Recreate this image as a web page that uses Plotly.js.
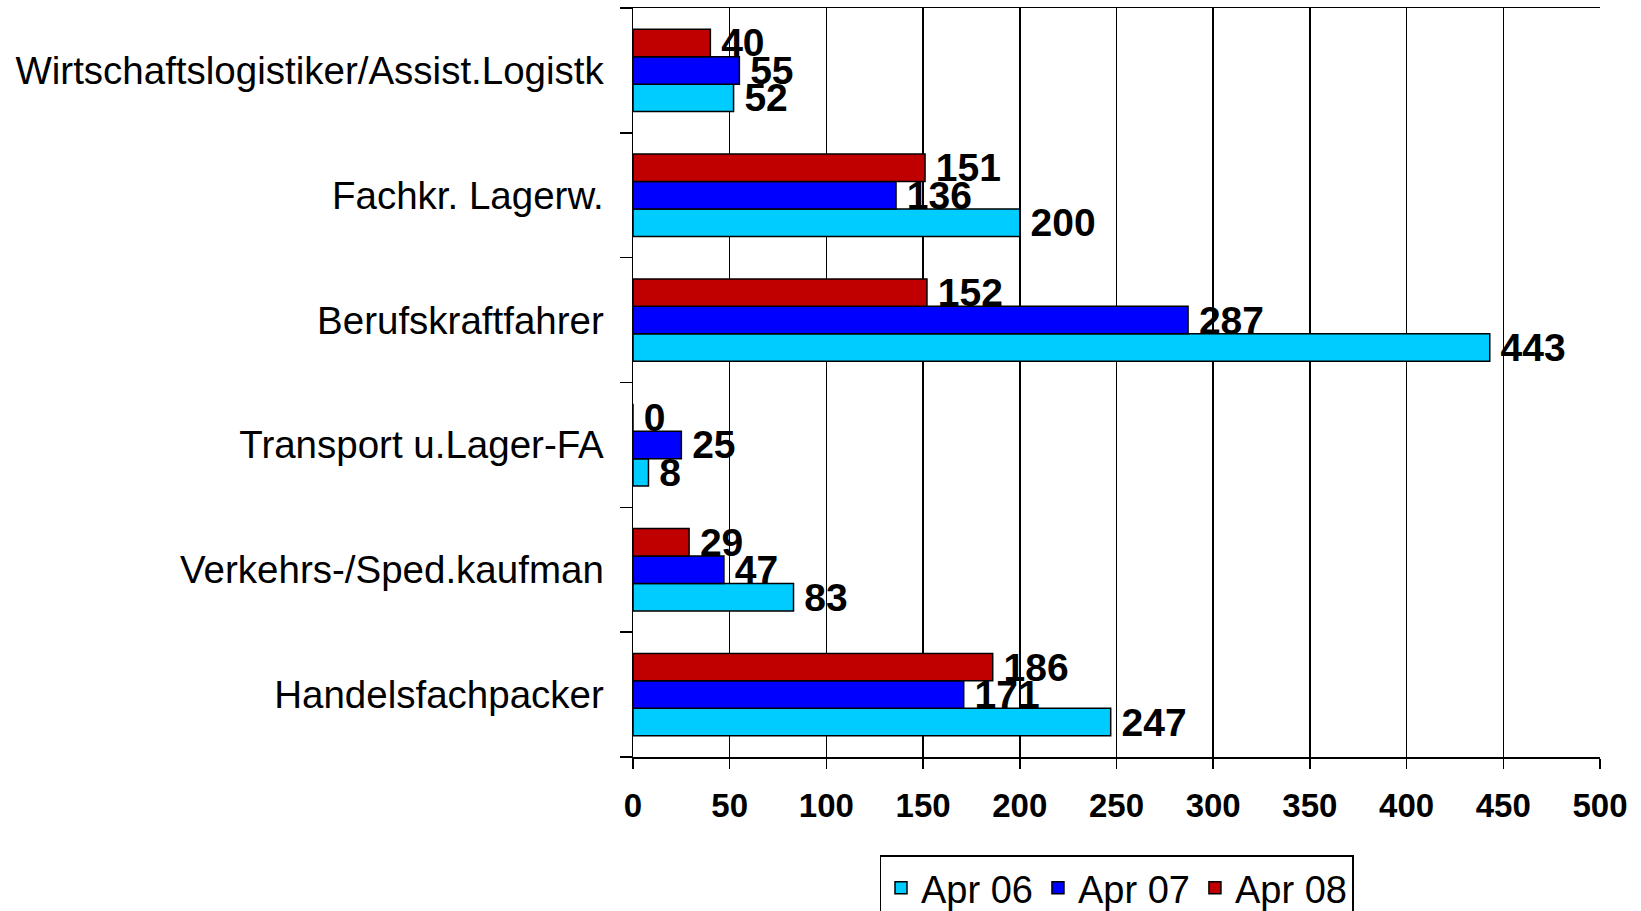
<!DOCTYPE html>
<html>
<head>
<meta charset="utf-8">
<script src="https://cdn.plot.ly/plotly-3.0.1.min.js"></script>
<style>html,body{margin:0;padding:0;background:#fff;}#chart{width:1641px;height:911px;}</style>
</head>
<body>
<div id="chart"></div>
<script>
// categories listed bottom-to-top
const categories = [
  "Handelsfachpacker",
  "Verkehrs-/Sped.kaufman",
  "Transport u.Lager-FA",
  "Berufskraftfahrer",
  "Fachkr. Lagerw.",
  "Wirtschaftslogistiker/Assist.Logistk"
];
const apr06 = [247, 83, 8, 443, 200, 52];
const apr07 = [171, 47, 25, 287, 136, 55];
const apr08 = [186, 29, 0, 152, 151, 40];
const seriesNames = ["Apr 06", "Apr 07", "Apr 08"];
const xTicks = [0, 50, 100, 150, 200, 250, 300, 350, 400, 450, 500];

const FONT = "Liberation Sans, Arial, sans-serif";
const colors = ["#00CCFF", "#0000FF", "#C00000"];
const allSeries = [apr06, apr07, apr08];

const traces = allSeries.map((vals, i) => ({
  type: "bar",
  orientation: "h",
  name: seriesNames[i],
  y: categories,
  x: vals,
  text: vals.map(v => "\u2009" + v),
  textposition: "outside",
  cliponaxis: false,
  constraintext: "none",
  textfont: {family: FONT, size: 39, color: "#000", weight: "bold"},
  marker: {color: colors[i], line: {color: "#000", width: 1.5}},
  hoverinfo: "x+y"
}));

const layout = {
  width: 1641,
  height: 911,
  paper_bgcolor: "#fff",
  plot_bgcolor: "#fff",
  margin: {l: 633, r: 41, t: 8, b: 154, autoexpand: false},
  barmode: "group",
  bargap: 0.34,
  bargroupgap: 0,
  font: {family: FONT, color: "#000"},
  xaxis: {
    range: [0, 500],
    tickvals: xTicks,
    ticktext: xTicks.map(String),
    showgrid: true,
    gridcolor: "#000",
    gridwidth: 1.5,
    zeroline: false,
    showline: true,
    mirror: true,
    linecolor: "#000",
    linewidth: 1.5,
    ticks: "outside",
    ticklen: 10,
    tickwidth: 1.5,
    tickcolor: "#000",
    ticklabelstandoff: 9,
    automargin: false,
    tickfont: {family: FONT, size: 33, color: "#000", weight: "bold"},
    fixedrange: true
  },
  yaxis: {
    type: "category",
    categoryorder: "array",
    categoryarray: categories,
    tickson: "boundaries",
    showgrid: false,
    showline: true,
    linecolor: "#000",
    linewidth: 1.5,
    ticks: "outside",
    ticklen: 12,
    tickwidth: 1.5,
    tickcolor: "#000",
    ticklabelstandoff: 20,
    automargin: false,
    tickfont: {family: FONT, size: 38.5, color: "#000"},
    fixedrange: true
  },
  showlegend: true,
  legend: {
    orientation: "h",
    x: 0.5,
    xanchor: "center",
    y: -0.131,
    yanchor: "top",
    traceorder: "normal",
    bordercolor: "#000",
    borderwidth: 1.5,
    bgcolor: "#fff",
    font: {family: FONT, size: 38, color: "#000"},
    itemwidth: 30
  }
};

Plotly.newPlot("chart", traces, layout, {displayModeBar: false, staticPlot: true});
</script>
</body>
</html>
